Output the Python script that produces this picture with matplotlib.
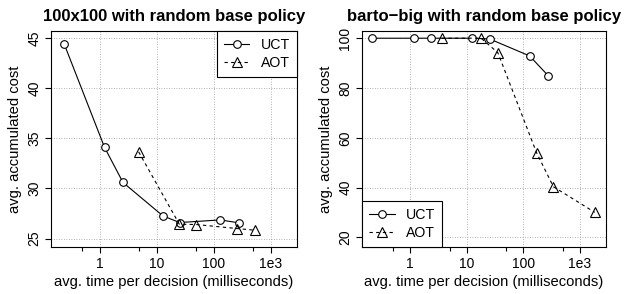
import numpy as np
import matplotlib.pyplot as plt
from matplotlib.ticker import FixedLocator, NullFormatter

plt.rcParams['font.family'] = ['Liberation Sans', 'DejaVu Sans']

# data ---------------------------------------------------------------------
grid_uct_t = [0.24, 1.22, 2.57, 12.9, 25.3, 131, 282]
grid_uct_c = [44.4, 34.1, 30.6, 27.26, 26.6, 26.86, 26.56]
grid_aot_t = [4.83, 25.0, 49.7, 257, 539]
grid_aot_c = [33.66, 26.43, 26.4, 26.0, 25.83]

barto_uct_t = [0.21, 1.17, 2.3, 12.2, 25.3, 129, 277]
barto_uct_c = [100, 100, 100, 100, 99.7, 92.9, 84.9]
barto_aot_t = [3.6, 17.9, 35.4, 171, 340, 1830]
barto_aot_c = [100, 100, 94.2, 54.1, 40.4, 30.1]

titles = ["100x100 with random base policy", "barto\u2212big with random base policy"]
xticks = [1, 10, 100, 1000]
xlabels = ["1", "10", "100", "1e3"]
minor_x = [0.5, 5, 50, 500]
yticks_left = [25, 30, 35, 40, 45]
yticks_right = [20, 40, 60, 80, 100]

fig = plt.figure(figsize=(6.27, 2.94), dpi=100)
ax1 = fig.add_axes([0.0813, 0.160, 0.3924, 0.7346])
ax2 = fig.add_axes([0.5774, 0.160, 0.3891, 0.7346])


def setup(ax, title, yticks, ylim):
    ax.set_xscale("log")
    ax.set_xlim(0.14, 2900)
    ax.set_ylim(*ylim)
    ax.xaxis.set_major_locator(FixedLocator(xticks))
    ax.set_xticklabels(xlabels)
    ax.xaxis.set_minor_locator(FixedLocator(minor_x))
    ax.xaxis.set_minor_formatter(NullFormatter())
    ax.set_yticks(yticks)
    ax.set_yticklabels([str(v) for v in yticks], rotation=90, va="center")
    ax.tick_params(axis="both", which="major", length=4, width=0.8,
                   labelsize=10, pad=3, colors="black")
    ax.tick_params(axis="x", which="minor", length=3, width=0.8)
    ax.grid(True, which="major", color="#999999", linestyle=(0, (1, 2)),
            linewidth=0.6)
    ax.set_axisbelow(True)
    for s in ax.spines.values():
        s.set_linewidth(0.8)
    ax.set_title(title, fontsize=12, fontweight="bold", pad=7)
    ax.set_xlabel("avg. time per decision (milliseconds)", fontsize=10.6,
                  labelpad=3)
    ax.set_ylabel("avg. accumulated cost", fontsize=10.6, labelpad=4)


def draw(ax, ut, uc, at, ac, loc):
    ax.plot(ut, uc, color="black", lw=0.8, marker="o", ms=5.5,
            mfc="white", mec="black", mew=0.8, label="UCT", zorder=3)
    ax.plot(at, ac, color="black", lw=0.8, dashes=(3, 3), marker="^",
            ms=6.5, mfc="none", mec="black", mew=0.8, label="AOT", zorder=3)
    leg = ax.legend(loc=loc, fontsize=10.2, frameon=True, fancybox=False,
                    framealpha=1, edgecolor="black", borderaxespad=0,
                    handlelength=1.8, borderpad=0.5, labelspacing=0.25,
                    handletextpad=0.8)
    leg.get_frame().set_linewidth(0.8)


setup(ax1, titles[0], yticks_left, (24.16, 45.73))
draw(ax1, grid_uct_t, grid_uct_c, grid_aot_t, grid_aot_c, "upper right")

setup(ax2, titles[1], yticks_right, (16.2, 102.9))
draw(ax2, barto_uct_t, barto_uct_c, barto_aot_t, barto_aot_c, "lower left")

fig.savefig("out.png", dpi=100)
